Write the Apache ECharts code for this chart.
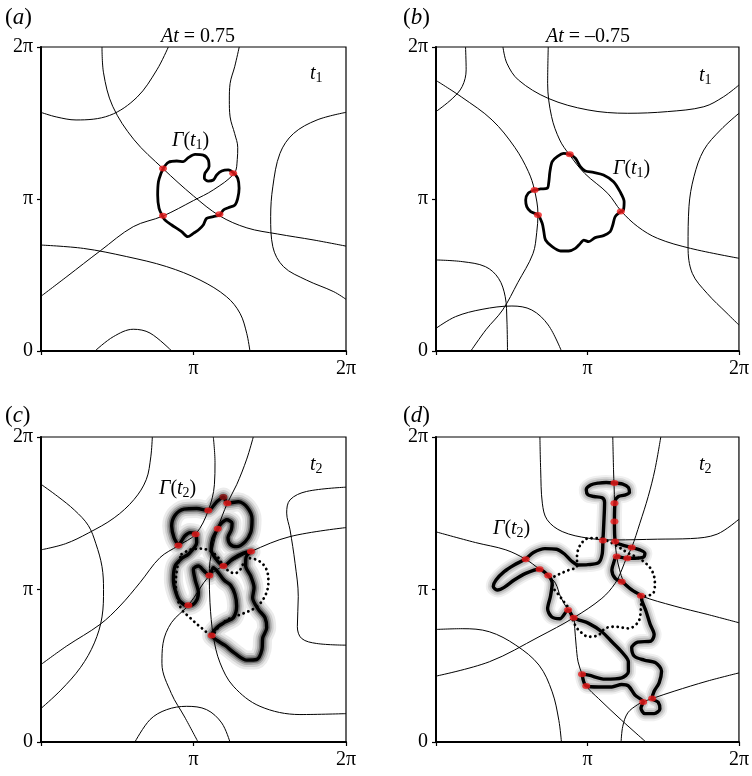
<!DOCTYPE html>
<html><head><meta charset="utf-8">
<script src="https://cdn.jsdelivr.net/npm/echarts@6/dist/echarts.min.js"></script>
<style>html,body{margin:0;padding:0;background:#fff}#c{width:752px;height:776px}</style>
</head><body><div id="c"></div>
<script>
// ---- tick labels (axis values in units of pi) ----
const xTickLabels = ['', 'π', '2π'];
const yTickLabels = ['0', 'π', '2π'];

// ---- panel (a) ----
const A_thin1 = [[0.40,2.0],[0.41,1.83],[0.47,1.61],[0.61,1.39],[0.80,1.20],[1.00,1.02],[1.17,0.89],[1.35,0.81],[1.55,0.77],[1.79,0.73],[2.0,0.69]];
const A_thin2 = [[0.835,2.0],[0.76,1.85],[0.63,1.67],[0.45,1.55],[0.23,1.52],[0.10,1.54],[0,1.57]];
const A_thin3 = [[1.30,2.0],[1.27,1.87],[1.24,1.76],[1.235,1.65],[1.24,1.54],[1.27,1.43],[1.29,1.34],[1.287,1.26],[1.268,1.17],[1.13,1.06],[1.00,0.99],[0.80,0.888],[0.605,0.818],[0.39,0.66],[0.17,0.49],[0,0.36]];
const A_thin4 = [[2.0,1.57],[1.81,1.52],[1.655,1.43],[1.567,1.30],[1.52,1.08],[1.506,0.884],[1.52,0.686],[1.59,0.555],[1.74,0.467],[1.92,0.39],[2.0,0.34]];
const A_thin5 = [[0,0.697],[0.278,0.675],[0.562,0.621],[0.824,0.555],[1.043,0.467],[1.217,0.357],[1.305,0.248],[1.349,0.116],[1.37,0]];
const A_thin6 = [[0.354,0],[0.474,0.094],[0.605,0.143],[0.715,0.118],[0.857,0]];
const A_gamma = [[0.802,1.202],[0.835,1.241],[0.890,1.250],[0.933,1.246],[0.966,1.272],[1.010,1.294],[1.064,1.289],[1.097,1.257],[1.102,1.213],[1.075,1.169],[1.071,1.136],[1.097,1.118],[1.130,1.125],[1.152,1.158],[1.185,1.184],[1.228,1.191],[1.263,1.171],[1.290,1.136],[1.299,1.070],[1.290,1.004],[1.272,0.961],[1.228,0.943],[1.196,0.928],[1.172,0.895],[1.130,0.884],[1.086,0.873],[1.064,0.829],[1.032,0.796],[0.999,0.774],[0.962,0.752],[0.922,0.785],[0.857,0.829],[0.813,0.862],[0.796,0.888],[0.774,0.939],[0.765,1.026],[0.770,1.114],[0.787,1.169],[0.802,1.202]];
const A_dots = [[0.80,1.20],[1.26,1.17],[0.80,0.89],[1.17,0.90]];

// ---- panel (b) ----
const B_thin1 = [[0.195,2.0],[0.199,1.85],[0.173,1.74],[0.107,1.66],[0,1.575]];
const B_thin2 = [[0,1.78],[0.17,1.67],[0.37,1.52],[0.52,1.34],[0.61,1.18],[0.65,1.06],[0.673,0.90],[0.665,0.78],[0.64,0.64],[0.54,0.45],[0.44,0.27],[0.33,0.14],[0.23,0]];
const B_thin3 = [[0.442,2.0],[0.468,1.893],[0.544,1.783],[0.741,1.662],[1.003,1.586],[1.266,1.564],[1.528,1.575],[1.768,1.607],[1.899,1.673],[2.0,1.75]];
const B_thin4 = [[0.741,2.0],[0.737,1.761],[0.763,1.542],[0.817,1.388],[0.879,1.294],[0.981,1.169],[1.134,1.037],[1.222,0.921],[1.332,0.818],[1.463,0.741],[1.681,0.675],[2.0,0.61]];
const B_thin5 = [[2.0,1.564],[1.878,1.454],[1.768,1.322],[1.703,1.147],[1.670,0.950],[1.664,0.686],[1.692,0.511],[1.790,0.379],[1.921,0.248],[2.0,0.171]];
const B_thin6 = [[0,0.599],[0.173,0.588],[0.326,0.555],[0.413,0.478],[0.457,0.357],[0.468,0.204],[0.472,0]];
const B_thin7 = [[0,0.149],[0.129,0.226],[0.304,0.274],[0.501,0.296],[0.632,0.27],[0.741,0.171],[0.828,0]];
const B_gamma = [[0.883,1.294],[0.920,1.268],[0.953,1.213],[0.986,1.184],[1.040,1.175],[1.106,1.158],[1.172,1.114],[1.215,1.048],[1.242,0.982],[1.237,0.928],[1.220,0.917],[1.183,0.884],[1.167,0.829],[1.150,0.785],[1.106,0.759],[1.051,0.746],[1.008,0.719],[0.975,0.730],[0.953,0.708],[0.920,0.675],[0.876,0.658],[0.822,0.658],[0.767,0.686],[0.723,0.730],[0.712,0.785],[0.701,0.840],[0.673,0.895],[0.625,0.917],[0.599,0.950],[0.592,0.993],[0.608,1.037],[0.651,1.059],[0.690,1.066],[0.734,1.070],[0.745,1.114],[0.752,1.180],[0.767,1.246],[0.800,1.279],[0.844,1.300],[0.883,1.294]];
const B_dots = [[0.883,1.294],[0.651,1.059],[0.673,0.895],[1.22,0.917]];

// ---- panel (c) ----
const C_thin1 = [[0.73,2.0],[0.72,1.87],[0.69,1.72],[0.61,1.59],[0.48,1.47],[0.31,1.37],[0.16,1.30],[0,1.26]];
const C_thin2 = [[0,1.69],[0.11,1.61],[0.22,1.52],[0.31,1.42],[0.36,1.30],[0.40,1.15],[0.41,1.00],[0.40,0.82],[0.35,0.65],[0.26,0.49],[0.13,0.34],[0,0.22]];
const C_thin3 = [[1.130,2.0],[1.141,1.834],[1.137,1.687],[1.097,1.518],[1.014,1.363],[0.901,1.288],[0.780,1.209],[0.649,1.045],[0.518,0.892],[0.387,0.771],[0.168,0.629],[0,0.508]];
const C_thin4 = [[1.392,2.0],[1.349,1.855],[1.283,1.687],[1.222,1.566],[1.158,1.398],[1.130,1.292],[1.108,1.183],[1.104,1.091],[1.108,0.913],[1.130,0.694],[1.174,0.519],[1.261,0.366],[1.436,0.234],[1.698,0.180],[2.0,0.186]];
const C_thin5 = [[2.0,1.406],[1.633,1.347],[1.377,1.249],[1.196,1.154],[1.104,1.091],[0.966,0.896],[0.855,0.782],[0.800,0.646],[0.793,0.515],[0.855,0.318],[0.942,0.164],[1.030,0]];
const C_thin6 = [[2.0,1.671],[1.742,1.643],[1.633,1.588],[1.611,1.501],[1.633,1.391],[1.666,1.172],[1.687,0.953],[1.681,0.756],[1.709,0.679],[1.808,0.646],[2.0,0.635]];
const C_thin7 = [[0.616,0],[0.715,0.147],[0.824,0.212],[0.955,0.234],[1.086,0.212],[1.185,0.125],[1.239,0]];
const C_gamma = [[0.901,1.288],[0.872,1.341],[0.857,1.417],[0.879,1.487],[0.938,1.527],[1.021,1.531],[1.097,1.518],[1.148,1.571],[1.196,1.606],[1.222,1.566],[1.294,1.575],[1.353,1.538],[1.384,1.461],[1.375,1.373],[1.338,1.312],[1.283,1.281],[1.240,1.297],[1.226,1.341],[1.248,1.391],[1.253,1.435],[1.218,1.457],[1.178,1.430],[1.159,1.398],[1.126,1.334],[1.115,1.264],[1.141,1.209],[1.196,1.154],[1.261,1.203],[1.327,1.238],[1.377,1.249],[1.344,1.209],[1.342,1.154],[1.375,1.089],[1.397,1.012],[1.388,0.946],[1.425,0.870],[1.469,0.815],[1.480,0.749],[1.454,0.683],[1.449,0.607],[1.414,0.541],[1.349,0.537],[1.272,0.581],[1.207,0.633],[1.152,0.668],[1.119,0.699],[1.152,0.749],[1.207,0.786],[1.261,0.815],[1.283,0.892],[1.272,0.968],[1.244,1.027],[1.200,1.062],[1.163,1.111],[1.130,1.143],[1.104,1.091],[1.069,1.122],[1.032,1.154],[0.999,1.133],[1.010,1.067],[1.032,0.979],[1.010,0.913],[0.966,0.894],[0.916,0.918],[0.885,0.979],[0.868,1.067],[0.879,1.154],[0.922,1.203],[0.966,1.231],[1.021,1.308],[1.014,1.363],[0.977,1.373],[0.944,1.352],[0.922,1.319],[0.901,1.288]];
const C_dotted = [[0.922,1.231],[0.977,1.260],[1.043,1.268],[1.108,1.253],[1.156,1.216],[1.191,1.165],[1.222,1.128],[1.272,1.106],[1.305,1.128],[1.331,1.176],[1.366,1.205],[1.436,1.183],[1.480,1.128],[1.491,1.045],[1.469,0.957],[1.414,0.887],[1.327,0.843],[1.240,0.811],[1.174,0.767],[1.119,0.705],[1.043,0.756],[0.977,0.815],[0.922,0.870],[0.894,0.946],[0.883,1.034],[0.890,1.122],[0.905,1.187],[0.922,1.231]];
const C_dots = [[1.097,1.518],[1.222,1.566],[1.014,1.363],[1.159,1.398],[0.901,1.288],[1.377,1.249],[1.196,1.154],[1.104,1.091],[0.966,0.896],[1.119,0.699]];
const C_darkDot = [[1.196,1.606]];

// ---- panel (d) ----
const D_thin1 = [[0.686,2.0],[0.691,1.785],[0.702,1.566],[0.734,1.457],[0.833,1.380],[1.008,1.336],[1.178,1.325],[1.462,1.330],[1.681,1.334],[1.856,1.363],[2.0,1.461]];
const D_thin2 = [[1.167,2.0],[1.172,1.785],[1.178,1.566],[1.178,1.446],[1.183,1.314],[1.193,1.216],[1.211,1.133],[1.239,1.056],[1.298,1.001],[1.353,0.959],[1.572,0.892],[1.790,0.837],[2.0,0.782]];
const D_thin3 = [[1.484,2.0],[1.445,1.785],[1.401,1.610],[1.346,1.435],[1.292,1.275],[1.259,1.211],[1.226,1.128],[1.183,1.041],[1.095,0.942],[0.909,0.815],[0.680,0.690],[0.352,0.526],[0,0.432]];
const D_thin4 = [[0,1.378],[0.260,1.308],[0.461,1.260],[0.592,1.198],[0.684,1.133],[0.741,1.091],[0.789,1.041],[0.822,0.953],[0.872,0.865],[0.909,0.815],[0.916,0.745],[0.925,0.635],[0.938,0.526],[0.964,0.445],[0.992,0.368],[1.073,0.285],[1.226,0.142],[1.386,0]];
const D_thin5 = [[0,0.738],[0.173,0.743],[0.352,0.723],[0.527,0.635],[0.680,0.504],[0.767,0.329],[0.811,0.142],[0.828,0]];
const D_thin6 = [[1.222,0],[1.233,0.103],[1.266,0.191],[1.331,0.245],[1.368,0.263],[1.427,0.285],[1.572,0.333],[1.790,0.399],[2.0,0.453]];
const D_gamma = [[1.178,1.698],[1.233,1.691],[1.270,1.669],[1.277,1.636],[1.244,1.619],[1.204,1.610],[1.183,1.582],[1.178,1.446],[1.183,1.314],[1.226,1.292],[1.292,1.275],[1.346,1.260],[1.379,1.238],[1.368,1.211],[1.314,1.205],[1.263,1.205],[1.193,1.216],[1.172,1.172],[1.161,1.128],[1.183,1.073],[1.226,1.051],[1.292,0.997],[1.353,0.959],[1.360,0.924],[1.386,0.859],[1.414,0.771],[1.440,0.705],[1.419,0.662],[1.331,0.655],[1.292,0.618],[1.309,0.563],[1.375,0.537],[1.451,0.519],[1.489,0.464],[1.473,0.388],[1.440,0.333],[1.427,0.285],[1.467,0.261],[1.478,0.217],[1.440,0.186],[1.379,0.186],[1.353,0.223],[1.368,0.263],[1.314,0.307],[1.270,0.368],[1.226,0.377],[1.161,0.361],[1.073,0.361],[0.992,0.368],[0.964,0.445],[1.008,0.438],[1.117,0.412],[1.226,0.421],[1.270,0.460],[1.270,0.526],[1.226,0.591],[1.161,0.657],[1.095,0.723],[1.008,0.778],[0.909,0.815],[0.872,0.865],[0.817,0.808],[0.763,0.821],[0.737,0.874],[0.756,0.957],[0.767,1.041],[0.741,1.091],[0.680,1.133],[0.592,1.106],[0.516,1.062],[0.450,1.014],[0.407,0.997],[0.378,1.019],[0.396,1.062],[0.450,1.117],[0.516,1.161],[0.588,1.198],[0.643,1.242],[0.719,1.268],[0.796,1.264],[0.850,1.231],[0.894,1.187],[0.938,1.161],[1.003,1.163],[1.073,1.176],[1.097,1.231],[1.102,1.321],[1.108,1.439],[1.113,1.571],[1.097,1.601],[1.043,1.610],[1.003,1.621],[0.992,1.654],[1.021,1.685],[1.073,1.698],[1.124,1.702],[1.178,1.698]];
const D_dotted = [[1.095,1.336],[1.008,1.336],[0.953,1.292],[0.931,1.216],[0.931,1.150],[0.877,1.128],[0.789,1.089],[0.763,1.067],[0.774,1.012],[0.811,0.964],[0.844,0.920],[0.877,0.876],[0.894,0.826],[0.916,0.771],[0.942,0.734],[1.008,0.690],[1.073,0.701],[1.117,0.745],[1.183,0.756],[1.270,0.745],[1.336,0.789],[1.353,0.876],[1.357,0.942],[1.434,0.975],[1.445,1.041],[1.423,1.128],[1.357,1.194],[1.270,1.238],[1.211,1.275],[1.156,1.308],[1.095,1.336]];
const D_dots = [[1.178,1.698],[1.178,1.566],[1.178,1.446],[1.102,1.321],[1.183,1.314],[1.292,1.275],[1.193,1.216],[1.263,1.205],[1.226,1.051],[1.353,0.959],[0.592,1.198],[0.684,1.133],[0.741,1.091],[0.872,0.865],[0.909,0.815],[0.964,0.445],[0.992,0.368],[1.368,0.263],[1.427,0.285]];

// ---------------------------------------------------------------
const FONT = 'Liberation Serif';
const grids = [
  {left:41, top:47, width:305, height:304},
  {left:436, top:47, width:305, height:304},
  {left:41, top:437, width:305, height:305},
  {left:436, top:437, width:305, height:305}
];
const HALO_DARK = [['#ebebeb',19],['#d0d0d0',14],['#a6a6a6',10],['#6e6e6e',6.5]];
const HALO_LIGHT = [['#f0f0f0',15],['#d8d8d8',11],['#bcbcbc',7.5]];
const panels = [
  {thin:[A_thin1,A_thin2,A_thin3,A_thin4,A_thin5,A_thin6], gamma:A_gamma, halo:null, dotted:null, dots:A_dots, dark:[]},
  {thin:[B_thin1,B_thin2,B_thin3,B_thin4,B_thin5,B_thin6,B_thin7], gamma:B_gamma, halo:null, dotted:null, dots:B_dots, dark:[]},
  {thin:[C_thin1,C_thin2,C_thin3,C_thin4,C_thin5,C_thin6,C_thin7], gamma:C_gamma, halo:HALO_DARK, dotted:C_dotted, dots:C_dots, dark:C_darkDot},
  {thin:[D_thin1,D_thin2,D_thin3,D_thin4,D_thin5,D_thin6], gamma:D_gamma, halo:HALO_LIGHT, dotted:D_dotted, dots:D_dots, dark:[]}
];

const series = [];
function ln(g, data, lineStyle, z, smooth){
  return {type:'line', xAxisIndex:g, yAxisIndex:g, data:data, symbol:'none', showSymbol:false,
          smooth:smooth, lineStyle:lineStyle, z:z, silent:true, animation:false, clip:true};
}
panels.forEach((p,g)=>{
  if (p.halo){
    p.halo.forEach(h=>series.push(ln(g,p.gamma,{color:h[0],width:h[1],cap:'round',join:'round'},1,0.3)));
  }
  p.thin.forEach(d=>series.push(ln(g,d,{color:'#000',width:1},2,0.35)));
  series.push(ln(g,p.gamma,{color:'#000',width:p.halo?3.4:2.8,cap:'round',join:'round'},3,0.3));
  if (p.dotted) series.push(ln(g,p.dotted,{color:'#000',width:2.8,type:[0.1,5],cap:'round'},4,0.35));
  series.push({type:'scatter', xAxisIndex:g, yAxisIndex:g, data:p.dots, symbol:'circle', symbolSize:[8,6],
               itemStyle:{color:'#ee1c1c'}, z:5, silent:true, animation:false});
  if (p.dark.length) series.push({type:'scatter', xAxisIndex:g, yAxisIndex:g, data:p.dark, symbol:'circle', symbolSize:[8,6],
               itemStyle:{color:'#8e1010'}, z:5, silent:true, animation:false});
});

const xAxes = grids.map((gr,i)=>({type:'value', gridIndex:i, min:0, max:2, interval:1,
  axisLine:{show:true, onZero:false, lineStyle:{color:'#000', width:2}},
  axisTick:{show:true, length:4, lineStyle:{color:'#000', width:1.2}},
  splitLine:{show:false},
  axisLabel:{color:'#000', fontFamily:FONT, fontSize:20, margin:8, formatter:v=>xTickLabels[Math.round(v)]}}));
const yAxes = grids.map((gr,i)=>({type:'value', gridIndex:i, min:0, max:2, interval:1,
  axisLine:{show:true, onZero:false, lineStyle:{color:'#000', width:2}},
  axisTick:{show:true, length:4, lineStyle:{color:'#000', width:1.2}},
  splitLine:{show:false},
  axisLabel:{color:'#000', fontFamily:FONT, fontSize:20, margin:8, formatter:v=>yTickLabels[Math.round(v)]}}));

const rich = {
  i:{fontFamily:FONT, fontStyle:'italic', fontSize:20, color:'#000'},
  n:{fontFamily:FONT, fontSize:20, color:'#000'},
  s:{fontFamily:FONT, fontSize:14, color:'#000', padding:[9,0,0,0]},
  P:{fontFamily:FONT, fontSize:23, color:'#000'},
  PI:{fontFamily:FONT, fontStyle:'italic', fontSize:23, color:'#000'}
};
function txt(x,y,text,align){
  return {type:'text', x:x, y:y, z:10, silent:true,
    style:{text:text, rich:rich, align:align||'left', verticalAlign:'middle', font:'20px "Liberation Serif"', fill:'#000'}};
}
const graphics = [
  txt(5,18,'{P|(}{PI|a}{P|)}'), txt(403,18,'{P|(}{PI|b}{P|)}'),
  txt(5,416,'{P|(}{PI|c}{P|)}'), txt(403,416,'{P|(}{PI|d}{P|)}'),
  txt(198,37,'{i|At}{n| = 0.75}','center'), txt(588,37,'{i|At}{n| = –0.75}','center'),
  txt(310,74,'{i|t}{s|1}'), txt(699,76,'{i|t}{s|1}'),
  txt(310,465,'{i|t}{s|2}'), txt(699,465,'{i|t}{s|2}'),
  txt(172,141,'{i|Γ}{n|(}{i|t}{s|1}{n|)}'), txt(613,169,'{i|Γ}{n|(}{i|t}{s|1}{n|)}'),
  txt(159,489,'{i|Γ}{n|(}{i|t}{s|2}{n|)}'), txt(493,529,'{i|Γ}{n|(}{i|t}{s|2}{n|)}')
];

const chart = echarts.init(document.getElementById('c'), null, {renderer:'canvas'});
chart.setOption({
  animation:false,
  backgroundColor:'#fff',
  grid: grids.map(g=>Object.assign({show:true, borderColor:'#000', borderWidth:1.2, backgroundColor:'transparent'}, g)),
  xAxis:xAxes, yAxis:yAxes, series:series, graphic:graphics
});
</script></body></html>
